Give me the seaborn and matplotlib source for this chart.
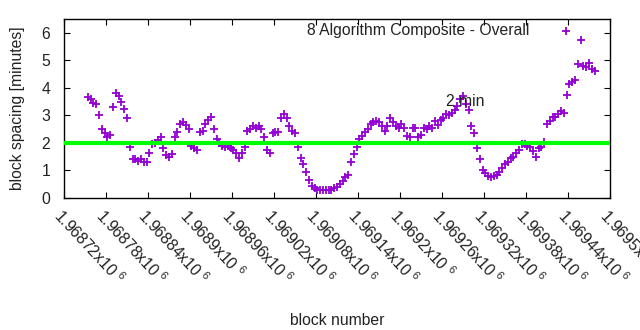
import numpy as np
import pandas as pd
import matplotlib
matplotlib.use("Agg")
import matplotlib.pyplot as plt
import matplotlib.transforms as mtransforms
import seaborn as sns

# Block spacing, one sample every 4 blocks starting at block 1968754
first_block = 1968754
block_step = 4
spacing_minutes = [
    3.65, 3.6, 3.45, 3.4, 3.0, 2.5, 2.35, 2.2, 2.3, 3.3,
    3.8, 3.7, 3.5, 3.25, 2.9, 1.85, 1.4, 1.4, 1.35, 1.4,
    1.3, 1.3, 1.65, 1.95, 2.0, 2.1, 2.2, 1.8, 1.55, 1.5,
    1.6, 2.2, 2.4, 2.7, 2.75, 2.65, 2.5, 1.9, 1.8, 1.75,
    2.4, 2.45, 2.7, 2.85, 2.95, 2.5, 2.15, 2.0, 1.9, 1.85,
    1.9, 1.8, 1.75, 1.65, 1.45, 1.65, 1.85, 2.45, 2.5, 2.6,
    2.55, 2.6, 2.5, 2.2, 1.75, 1.65, 2.35, 2.4, 2.4, 2.9,
    3.05, 2.9, 2.6, 2.45, 2.35, 1.85, 1.45, 1.25, 0.95, 0.65,
    0.45, 0.35, 0.3, 0.3, 0.3, 0.3, 0.3, 0.3, 0.35, 0.4,
    0.5, 0.6, 0.75, 0.85, 1.3, 1.6, 1.85, 2.15, 2.25, 2.4,
    2.5, 2.7, 2.75, 2.8, 2.75, 2.6, 2.45, 2.6, 2.9, 2.75,
    2.6, 2.55, 2.7, 2.55, 2.25, 2.2, 2.55, 2.55, 2.2, 2.3,
    2.55, 2.5, 2.6, 2.55, 2.8, 2.65, 2.85, 2.9, 3.05, 3.0,
    3.1, 3.2, 3.35, 3.6, 3.7, 3.4, 3.2, 2.6, 2.35, 1.8,
    1.4, 1.0, 0.9, 0.8, 0.75, 0.8, 0.85, 0.95, 1.1, 1.25,
    1.3, 1.45, 1.5, 1.65, 1.75, 1.95, 1.95, 1.9, 1.85, 1.7,
    1.5, 1.8, 1.85, 2.05, 2.7, 2.8, 2.95, 2.95, 3.05, 3.15,
    3.1, 3.75, 4.15, 4.2, 4.3, 4.85, 5.75, 4.8, 4.75, 4.9,
    4.7, 4.6,
]
blocks = first_block + block_step * np.arange(len(spacing_minutes))

series_label = "8 Algorithm Composite - Overall"
target_minutes = 2
target_label = "2 min"
target_label_block = 1969266
target_label_value = 3.5

x_min, x_max, x_step = 1968720, 1969500, 60
y_min, y_max = 0, 6.5
y_ticks = [0, 1, 2, 3, 4, 5, 6]

df = pd.DataFrame({"block": blocks, "spacing": spacing_minutes})

sns.set_theme(style="white")
plt.rcParams["font.family"] = ["Liberation Sans", "DejaVu Sans"]
plt.rcParams["mathtext.fontset"] = "custom"
plt.rcParams["mathtext.rm"] = "Liberation Sans"
plt.rcParams["mathtext.default"] = "regular"

fs = 11.3
fig = plt.figure(figsize=(6.4, 3.3), dpi=100)
ax = fig.add_axes([0.1, 0.4, 0.853, 0.5424])

sns.scatterplot(data=df, x="block", y="spacing", marker="+", color="#9400d3",
                s=32, linewidth=1.3, label=series_label, ax=ax, zorder=2)
ax.axhline(target_minutes, color="#00ff00", linewidth=3.0, zorder=3)
ax.text(target_label_block, target_label_value, target_label, ha="left",
        va="center", fontsize=fs, color="#222222", zorder=4)

ax.set_xlim(x_min, x_max)
ax.set_ylim(y_min, y_max)
xt = np.arange(x_min, x_max + 1, x_step)
ax.set_xticks(xt)
ax.set_xticklabels([f"{v / 1e6:.6g}x10 $^{{6}}$" for v in xt],
                   rotation=-47, ha="left", va="top", rotation_mode="anchor",
                   fontsize=fs, color="#222222")
shift = mtransforms.ScaledTranslation(0.045, -0.005, fig.dpi_scale_trans)
for lbl in ax.get_xticklabels():
    lbl.set_transform(lbl.get_transform() + shift)
ax.set_yticks(y_ticks)
ax.set_yticklabels([str(v) for v in y_ticks], fontsize=fs, color="#222222")
ax.tick_params(axis="both", direction="in", length=4, width=0.8, color="black",
               top=True, right=True, bottom=True, left=True)
ax.tick_params(axis="x", pad=6)
ax.tick_params(axis="y", pad=10)
for sp in ax.spines.values():
    sp.set_color("black")
    sp.set_linewidth(1.0)

ax.set_xlabel("block number", fontsize=fs, color="#222222", labelpad=18)
ax.set_ylabel("block spacing [minutes]", fontsize=fs, color="#222222", labelpad=12)

ax.legend(loc="upper right", bbox_to_anchor=(0.948, 0.975), frameon=False,
          markerfirst=False, handlelength=2.0, handletextpad=1.3,
          borderpad=0, borderaxespad=0, fontsize=fs, labelcolor="#222222")

fig.savefig("out.png", dpi=100)
